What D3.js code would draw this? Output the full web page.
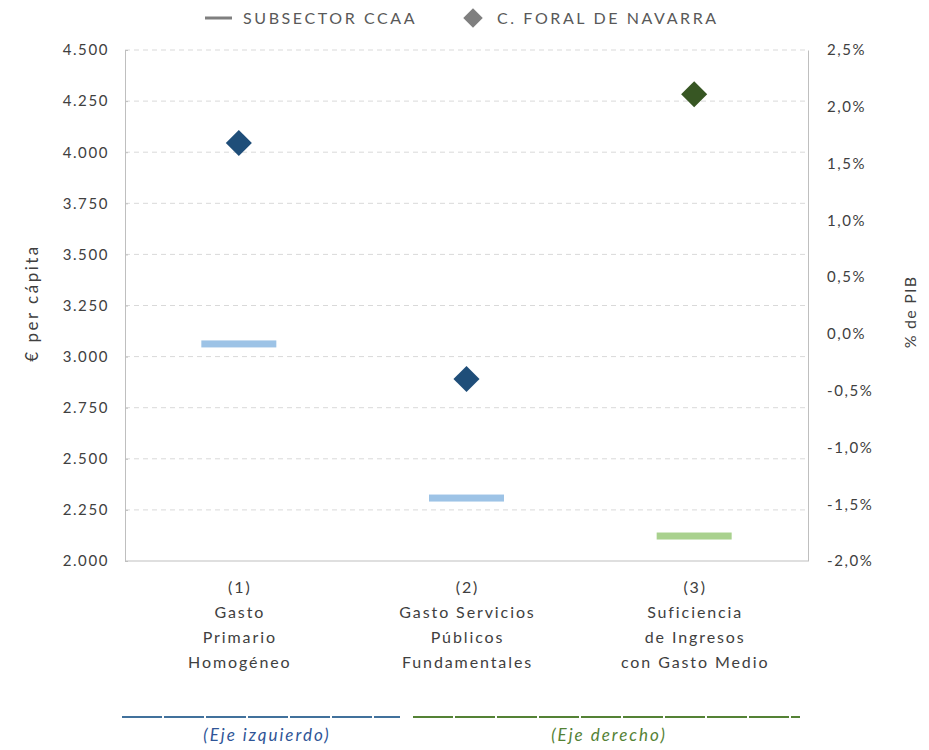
<!DOCTYPE html>
<html><head><meta charset="utf-8">
<script src="https://cdn.jsdelivr.net/npm/d3@7"></script>
<style>body{margin:0;background:#fff;} text{font-family:Lato,"Open Sans",sans-serif;}</style>
</head><body><svg id="c" width="929" height="750"></svg>
<script>
const categories = [["(1)","Gasto","Primario","Homogéneo"],["(2)","Gasto Servicios","Públicos","Fundamentales"],["(3)","Suficiencia","de Ingresos","con Gasto Medio"]];
const subsectorValues = [3062, 2308, -1.78];   // first two: € per cápita (left), third: % PIB (right)
const navarraValues = [4045, 2890, 2.11];
const valueAxis = ["left","left","right"];
const leftTicks = [2000,2250,2500,2750,3000,3250,3500,3750,4000,4250,4500];
const rightTicks = [-2.0,-1.5,-1.0,-0.5,0.0,0.5,1.0,1.5,2.0,2.5];
const barColors = ["#9dc3e6","#9dc3e6","#a9d18e"];
const diamondColors = ["#1f4e79","#1f4e79","#375623"];

const svg = d3.select("#c");
const L=125, R=808, T=50, B=561;
const x = d3.scaleBand().domain(d3.range(3)).range([L,R]);
const yL = d3.scaleLinear().domain([2000,4500]).range([B,T]);
const yR = d3.scaleLinear().domain([-2.0,2.5]).range([B,T]);
const ys = i => valueAxis[i]==="left"?yL:yR;

// grid
svg.append("g").selectAll("line").data(leftTicks.slice(1)).join("line")
  .attr("x1",L).attr("x2",R).attr("y1",d=>yL(d)).attr("y2",d=>yL(d))
  .attr("stroke","#d9d9d9").attr("stroke-width",1).attr("stroke-dasharray","5,4");

// axes
const fmtL = d=> d3.format(",")(d).replace(",",".");
const gl = svg.append("g").attr("transform",`translate(${L},0)`)
  .call(d3.axisLeft(yL).tickValues(leftTicks).tickFormat(fmtL).tickSize(-3).tickPadding(16));
const fmtR = d=> d3.format(".1f")(d).replace(".",",").replace("−","-")+"%";
const gr = svg.append("g").attr("transform",`translate(${R},0)`)
  .call(d3.axisRight(yR).tickValues(rightTicks).tickFormat(fmtR).tickSize(0).tickPadding(19));
[gl,gr].forEach(g=>{
  g.select(".domain").attr("stroke","#bfbfbf");
  g.selectAll(".tick line").attr("stroke","#bfbfbf");
  g.selectAll("text").attr("font-size",15).attr("letter-spacing","1.6px").attr("fill","#404040").attr("font-family","Lato,'Open Sans',sans-serif");
});
svg.append("line").attr("x1",L).attr("x2",R).attr("y1",B).attr("y2",B).attr("stroke","#bfbfbf");

// axis titles
svg.append("text").attr("transform",`translate(38,303) rotate(-90)`).attr("text-anchor","middle")
  .attr("font-size",17).attr("letter-spacing","2.5px").attr("fill","#404040").text("€ per cápita");
svg.append("text").attr("transform",`translate(916,312) rotate(-90)`).attr("text-anchor","middle")
  .attr("font-size",16).attr("letter-spacing","1.2px").attr("fill","#404040").text("% de PIB");

// bars (horizontal dashes)
const bw = 75, bh = 7;
svg.append("g").selectAll("rect").data(subsectorValues).join("rect")
  .attr("x",(d,i)=>x(i)+x.bandwidth()/2-bw/2).attr("width",bw)
  .attr("y",(d,i)=>ys(i)(d)-bh/2).attr("height",bh).attr("fill",(d,i)=>barColors[i]);

// diamonds
const sym = d3.symbol().type(d3.symbolSquare).size(340);
svg.append("g").selectAll("path").data(navarraValues).join("path")
  .attr("d",sym).attr("transform",(d,i)=>`translate(${x(i)+x.bandwidth()/2},${ys(i)(d)}) rotate(45)`)
  .attr("fill",(d,i)=>diamondColors[i]);

// category labels
categories.forEach((lines,i)=>{
  const t = svg.append("text").attr("text-anchor","middle").attr("font-size",16).attr("letter-spacing","1.9px").attr("fill","#404040");
  lines.forEach((s,j)=>t.append("tspan").attr("x",x(i)+x.bandwidth()/2+1).attr("y",593+j*25).text(s));
});

// legend
svg.append("line").attr("x1",205).attr("x2",232).attr("y1",18).attr("y2",18).attr("stroke","#7f7f7f").attr("stroke-width",3);
svg.append("text").attr("x",243).attr("y",24).attr("font-size",16).attr("letter-spacing","2.6px").attr("fill","#595959").text("SUBSECTOR CCAA");
svg.append("path").attr("d",d3.symbol().type(d3.symbolSquare).size(190)).attr("transform","translate(473,18) rotate(45)").attr("fill","#7f7f7f");
svg.append("text").attr("x",497).attr("y",24).attr("font-size",16).attr("letter-spacing","2.6px").attr("fill","#595959").text("C. FORAL DE NAVARRA");

// bottom axis grouping
svg.append("line").attr("x1",122).attr("x2",400).attr("y1",717).attr("y2",717).attr("stroke","#41719c").attr("stroke-width",2).attr("stroke-dasharray","40,2");
svg.append("line").attr("x1",413).attr("x2",800).attr("y1",717).attr("y2",717).attr("stroke","#548235").attr("stroke-width",2).attr("stroke-dasharray","40,2");
svg.append("text").attr("x",267).attr("y",741).attr("text-anchor","middle").attr("font-size",17).attr("letter-spacing","2px").attr("font-style","italic").attr("fill","#2f5597").text("(Eje izquierdo)");
svg.append("text").attr("x",609).attr("y",741).attr("text-anchor","middle").attr("font-size",17).attr("letter-spacing","2px").attr("font-style","italic").attr("fill","#548235").text("(Eje derecho)");
</script></body></html>
